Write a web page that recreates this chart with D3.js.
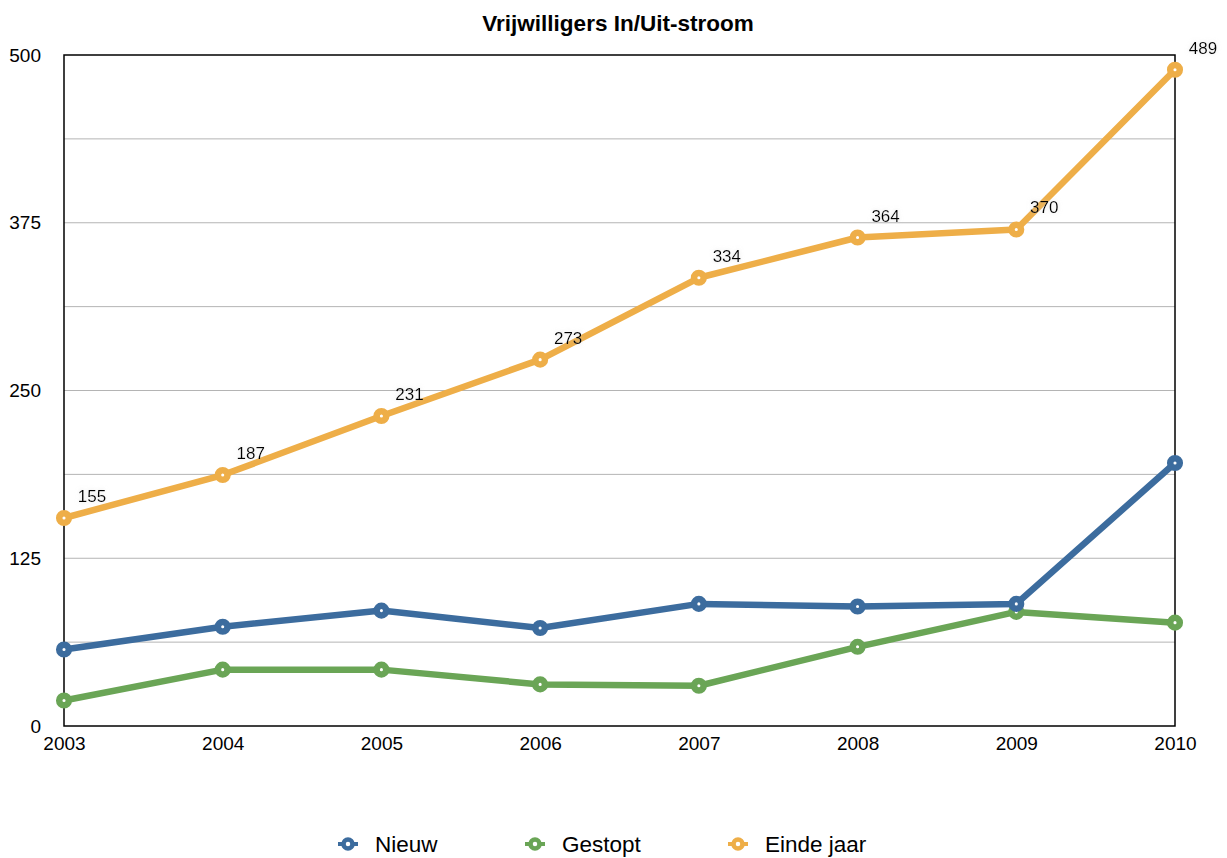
<!DOCTYPE html>
<html>
<head>
<meta charset="utf-8">
<script src="https://cdn.jsdelivr.net/npm/d3@7"></script>
<style>
  body { margin: 0; background: #fff; }
  svg { font-family: "Liberation Sans", Arial, sans-serif; }
  .lbl { font-size: 17px; fill: #000; filter: url(#glow); }
</style>
</head>
<body>
<svg width="1227" height="858"></svg>
<script>
var years = ["2003", "2004", "2005", "2006", "2007", "2008", "2009", "2010"];
var nieuw = [57, 74, 86, 73, 91, 89, 91, 196];
var gestopt = [19, 42, 42, 31, 30, 59, 85, 77];
var eindeJaar = [155, 187, 231, 273, 334, 364, 370, 489];
var yTicks = [0, 125, 250, 375, 500];
var gridValues = [62.5, 125, 187.5, 250, 312.5, 375, 437.5];
var seriesNames = ["Nieuw", "Gestopt", "Einde jaar"];
var colors = ["#3c6c9e", "#6aa556", "#eeae48"];

var margin = {top: 55, right: 52, bottom: 132, left: 64},
    width = 1227 - margin.left - margin.right,
    height = 858 - margin.top - margin.bottom;

var svg = d3.select("svg");

var defs = svg.append("defs");
var f = defs.append("filter").attr("id", "glow")
    .attr("x", "-20%").attr("y", "-30%").attr("width", "140%").attr("height", "160%");
f.append("feGaussianBlur").attr("in", "SourceAlpha").attr("stdDeviation", 2).attr("result", "b");
f.append("feColorMatrix").attr("in", "b").attr("type", "matrix")
    .attr("values", "0 0 0 0 0.6  0 0 0 0 0.6  0 0 0 0 0.6  0 0 0 0.55 0").attr("result", "s");
var fm = f.append("feMerge");
fm.append("feMergeNode").attr("in", "s");
fm.append("feMergeNode").attr("in", "SourceGraphic");

var x = d3.scalePoint().domain(years).range([0, width]);
var y = d3.scaleLinear().domain([0, 500]).range([height, 0]);

var g = svg.append("g")
    .attr("transform", "translate(" + margin.left + "," + margin.top + ")");

svg.append("text")
    .attr("x", 618).attr("y", 31)
    .attr("text-anchor", "middle")
    .style("font-size", "22.5px").style("font-weight", "bold")
    .text("Vrijwilligers In/Uit-stroom");

// grid
g.selectAll("line.grid").data(gridValues).enter().append("line")
    .attr("class", "grid")
    .attr("x1", 0).attr("x2", width)
    .attr("y1", d => y(d)).attr("y2", d => y(d))
    .attr("stroke", "#b4b4b4").attr("stroke-width", 1);

// frame
g.append("rect")
    .attr("x", 0).attr("y", 0).attr("width", width).attr("height", height)
    .attr("fill", "none").attr("stroke", "#000").attr("stroke-width", 1.5);

// y axis
var yAxis = d3.axisLeft(y).tickValues(yTicks).tickSize(0).tickPadding(23);
g.append("g").call(yAxis)
    .call(s => s.select(".domain").remove())
    .selectAll("text")
    .style("font-size", "19px").attr("fill", "#000")
    .attr("font-family", "Liberation Sans, Arial, sans-serif");

// x axis
var xAxis = d3.axisBottom(x).tickSize(0).tickPadding(11);
g.append("g").attr("transform", "translate(0," + height + ")").call(xAxis)
    .call(s => s.select(".domain").remove())
    .selectAll("text")
    .style("font-size", "19px").attr("fill", "#000")
    .attr("font-family", "Liberation Sans, Arial, sans-serif");

var allSeries = [nieuw, gestopt, eindeJaar];
var line = d3.line().x((d, i) => x(years[i])).y(d => y(d));

// green under blue, orange on top
var order = [1, 0, 2];
order.forEach(function(k) {
  var vals = allSeries[k];
  g.append("path").datum(vals)
      .attr("d", line)
      .attr("fill", "none")
      .attr("stroke", colors[k])
      .attr("stroke-width", 6.5)
      .attr("stroke-linejoin", "round");
  g.selectAll("circle.s" + k).data(vals).enter().append("circle")
      .attr("class", "s" + k)
      .attr("cx", (d, i) => x(years[i]))
      .attr("cy", d => y(d))
      .attr("r", 4.8)
      .attr("fill", "#fff")
      .attr("stroke", colors[k])
      .attr("stroke-width", 6.5);
});

// data labels for Einde jaar
g.selectAll("text.lbl").data(eindeJaar).enter().append("text")
    .attr("class", "lbl")
    .attr("x", (d, i) => x(years[i]) + 28)
    .attr("y", d => y(d) - 16)
    .attr("text-anchor", "middle")
    .text(d => d);

// legend
var legX = [348, 535, 738];
var leg = svg.append("g");
seriesNames.forEach(function(name, k) {
  leg.append("line")
      .attr("x1", legX[k] - 10).attr("x2", legX[k] + 10)
      .attr("y1", 844).attr("y2", 844)
      .attr("stroke", colors[k]).attr("stroke-width", 4);
  leg.append("circle")
      .attr("cx", legX[k]).attr("cy", 844).attr("r", 4.5)
      .attr("fill", "#fff").attr("stroke", colors[k]).attr("stroke-width", 4.5);
  leg.append("text")
      .attr("x", legX[k] + 27).attr("y", 852)
      .style("font-size", "22.5px")
      .text(name);
});
</script>
</body>
</html>
